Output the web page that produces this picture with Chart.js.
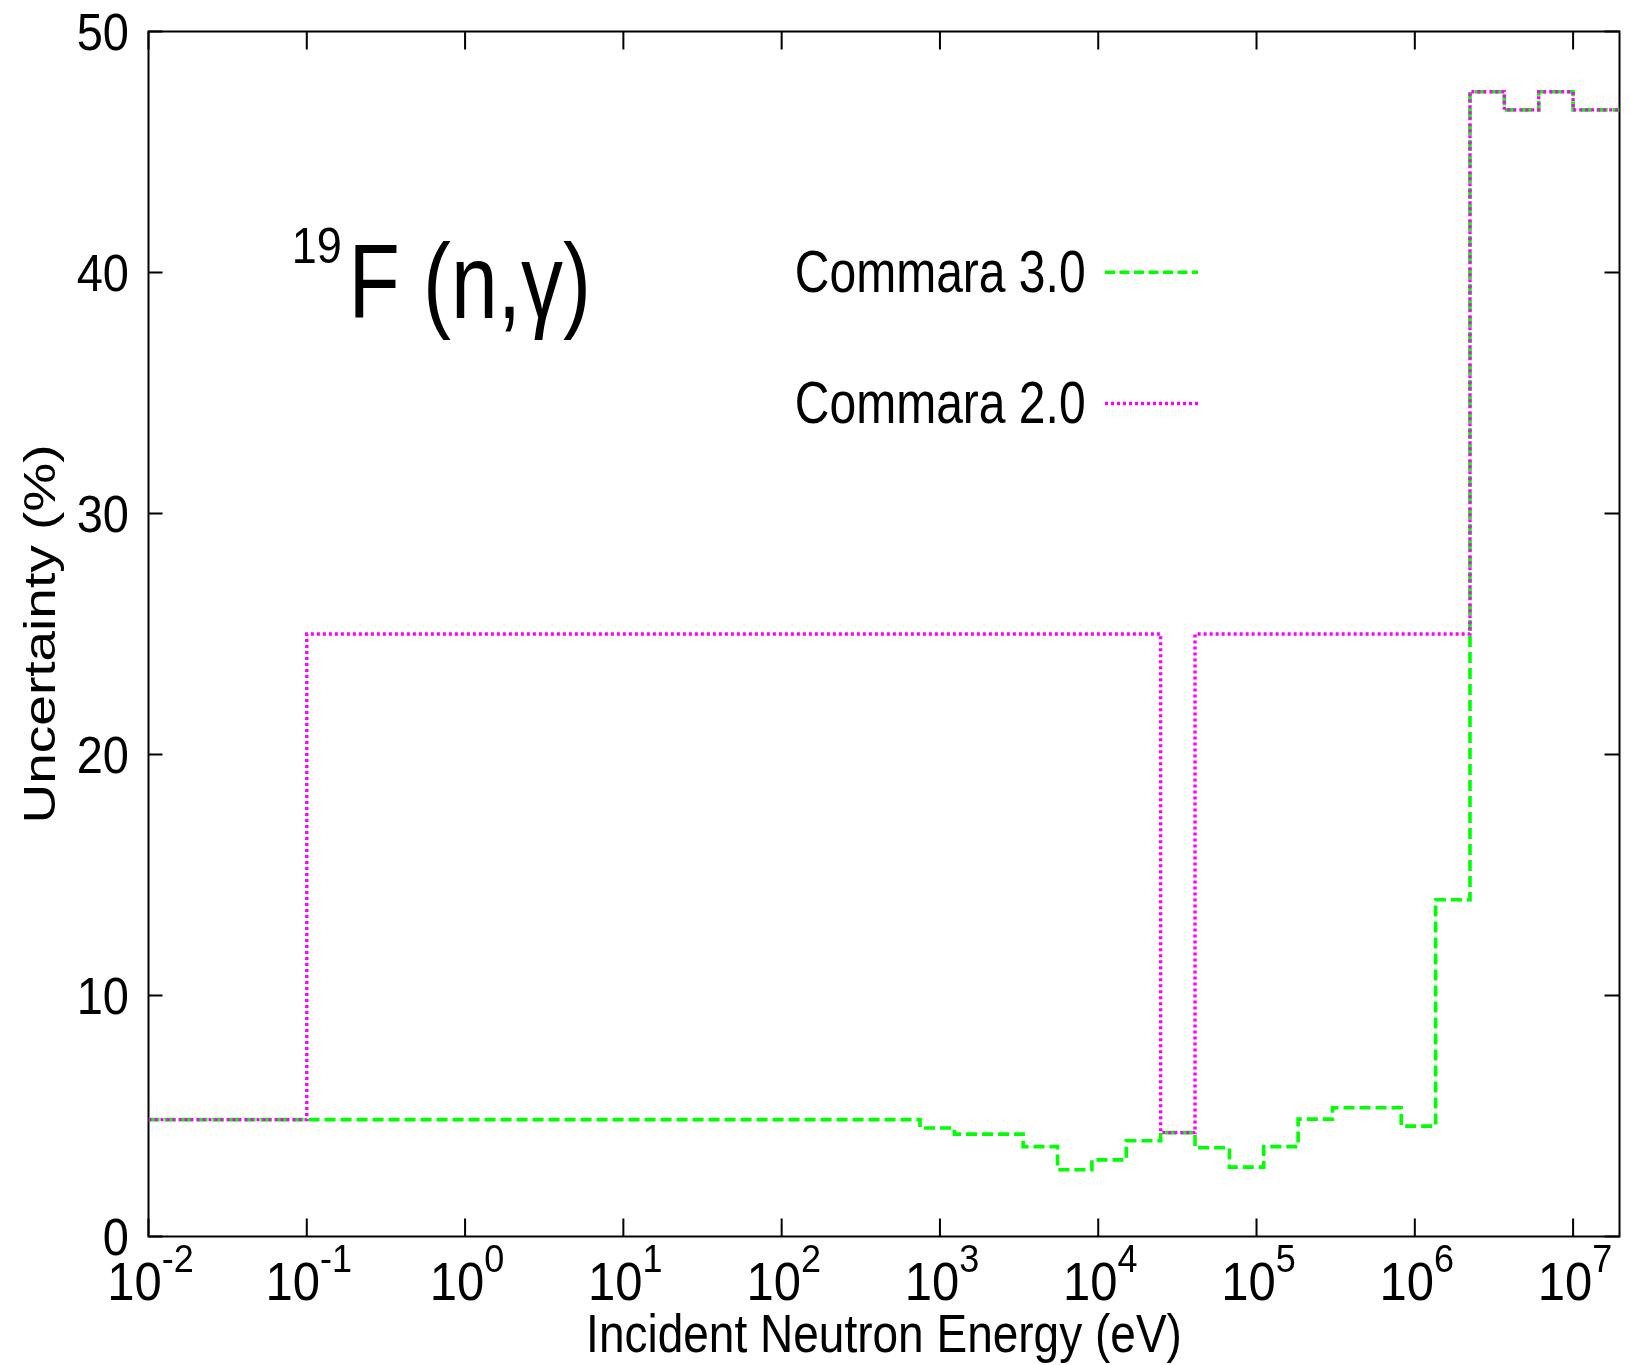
<!DOCTYPE html>
<html><head><meta charset="utf-8">
<script src="https://cdn.jsdelivr.net/npm/chart.js@4.4.1/dist/chart.umd.min.js"></script>
<style>html,body{margin:0;padding:0;background:#fff;} canvas{display:block;}</style>
</head><body>
<canvas id="c" width="1629" height="1365"></canvas>
<script>
// Group boundaries (eV) where values change
const energyEdges = [0.01, 0.1, 748.5, 1234, 3355, 5531, 9119, 15034, 24788, 40868, 67380, 111090, 183156, 301974, 820850, 1353350, 2231300, 3678790, 6065310, 10000000, 19640300];
// Uncertainty (%) in each interval [edge i, edge i+1)
const commara30 = [4.85, 4.85, 4.5, 4.25, 3.73, 2.77, 3.18, 3.97, 4.31, 3.68, 2.88, 3.73, 4.87, 5.34, 4.58, 13.97, 47.5, 46.75, 47.5, 46.75];
const commara20 = [4.85, 25, 25, 25, 25, 25, 25, 25, 4.31, 25, 25, 25, 25, 25, 25, 25, 47.5, 46.75, 47.5, 46.75];
const seriesNames = ['Commara 3.0', 'Commara 2.0'];
const xTickExponents = [-2, -1, 0, 1, 2, 3, 4, 5, 6, 7];
const yTickValues = [0, 10, 20, 30, 40, 50];
const xTitle = 'Incident Neutron Energy (eV)';
const yTitle = 'Uncertainty (%)';
const reactionMass = '19';
const reactionLabel = 'F (n,\u03B3)';

function stepPoints(edges, vals) {
  const pts = vals.map((v, i) => ({x: edges[i], y: v}));
  pts.push({x: edges[edges.length - 1], y: vals[vals.length - 1]});
  return pts;
}

const FONT = '"Liberation Sans", Arial, Helvetica, sans-serif';
function drawText(ctx, s, x, y, size, k, align, rot) {
  ctx.save();
  ctx.translate(x, y);
  ctx.scale(1, k);
  if (rot) ctx.rotate(rot);
  ctx.font = size + 'px ' + FONT;
  ctx.textAlign = align;
  ctx.textBaseline = 'alphabetic';
  ctx.fillStyle = '#000';
  ctx.fillText(s, 0, 0);
  ctx.restore();
}

const framePlugin = {
  id: 'frame',
  beforeDatasetsDraw(chart) {
    const {ctx, chartArea: a, scales} = chart;
    const xs = scales.x, ys = scales.y;
    ctx.save();
    ctx.strokeStyle = '#000';
    ctx.lineWidth = 2;
    ctx.beginPath();
    xTickExponents.forEach(e => {
      const x = xs.getPixelForValue(Math.pow(10, e));
      ctx.moveTo(x, a.bottom); ctx.lineTo(x, a.bottom - 18);
      ctx.moveTo(x, a.top); ctx.lineTo(x, a.top + 18);
    });
    yTickValues.forEach(v => {
      const y = ys.getPixelForValue(v);
      ctx.moveTo(a.left, y); ctx.lineTo(a.left + 14, y);
      ctx.moveTo(a.right, y); ctx.lineTo(a.right - 15, y);
    });
    ctx.stroke();
    ctx.strokeRect(a.left, a.top, a.right - a.left, a.bottom - a.top);
    ctx.restore();
  },
  afterDraw(chart) {
    const {ctx, chartArea: a, scales} = chart;
    const xs = scales.x, ys = scales.y;
    yTickValues.forEach(v => {
      const y = ys.getPixelForValue(v);
      drawText(ctx, String(v), a.left - 19.5, y + 18.5, 47, 1.12, 'right');
    });
    xTickExponents.forEach(e => {
      const x = xs.getPixelForValue(Math.pow(10, e));
      const base = '10', sup = String(e);
      ctx.font = '49px ' + FONT; const wb = ctx.measureText(base).width;
      ctx.font = '36px ' + FONT; const ws = ctx.measureText(sup).width;
      const sx = x - (wb + ws) / 2 + 2;
      drawText(ctx, base, sx, a.bottom + 63.5, 49, 1.08, 'left');
      drawText(ctx, sup, sx + wb, a.bottom + 35.2, 36, 1.07, 'left');
    });
    drawText(ctx, xTitle, (a.left + a.right) / 2, a.bottom + 115.2, 46, 1.17, 'center');
    drawText(ctx, yTitle, 54.5, (a.top + a.bottom) / 2, 44, 1.25, 'center', -Math.PI / 2);
    drawText(ctx, reactionMass, 291.8, 263, 45, 1.09, 'left');
    drawText(ctx, reactionLabel, 348.4, 318.3, 84, 1.26, 'left');
    const legendBase = [291.7, 423];
    chart.data.datasets.forEach((ds, i) => {
      const ty = legendBase[i];
      drawText(ctx, ds.label, 1085.6, ty, 48, 1.24, 'right');
      ctx.save();
      ctx.strokeStyle = ds.borderColor;
      ctx.lineWidth = ds.borderWidth;
      ctx.setLineDash(ds.legendDash);
      ctx.beginPath();
      ctx.moveTo(1105, ty - 19.5);
      ctx.lineTo(1198, ty - 19.5);
      ctx.stroke();
      ctx.restore();
    });
  }
};

new Chart(document.getElementById('c'), {
  type: 'line',
  data: {
    datasets: [
      {label: seriesNames[0], data: stepPoints(energyEdges, commara30), borderColor: '#00ff00', borderWidth: 3.6,
       borderDash: [11, 5], legendDash: [10, 4.5], stepped: true, pointRadius: 0, fill: false, order: 1},
      {label: seriesNames[1], data: stepPoints(energyEdges, commara20), borderColor: '#ff00ff', borderWidth: 3.4,
       borderDash: [3, 3], legendDash: [3, 3], stepped: true, pointRadius: 0, fill: false, order: 0}
    ]
  },
  options: {
    responsive: false,
    animation: false,
    devicePixelRatio: 1,
    layout: {padding: {left: 148.5, top: 31.5, right: 9.5, bottom: 128.5}},
    plugins: {legend: {display: false}, tooltip: {enabled: false}},
    scales: {
      x: {type: 'logarithmic', min: 0.01, max: 19640300, display: false},
      y: {type: 'linear', min: 0, max: 50, display: false}
    }
  },
  plugins: [framePlugin]
});
</script>
</body></html>
